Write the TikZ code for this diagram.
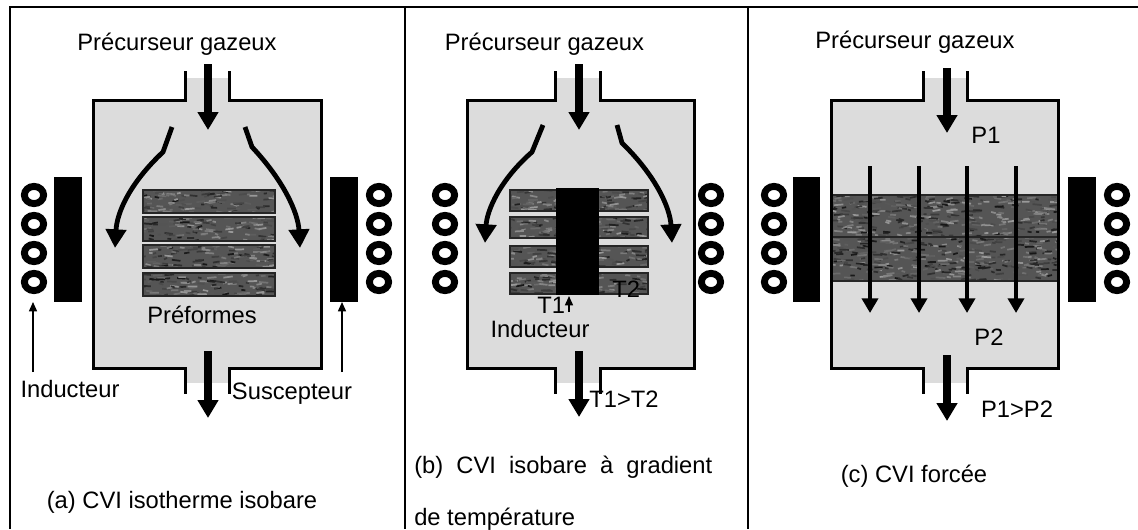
\documentclass[tikz,border=0pt]{standalone}
\usepackage{fontspec}
\setmainfont{Liberation Sans}
\usetikzlibrary{arrows.meta}
\definecolor{chgray}{HTML}{DCDCDC}
\definecolor{pfbase}{HTML}{555555}
\definecolor{pfdark}{HTML}{262626}
\tikzset{
  frameline/.style={line width=1.5pt},
  wall/.style={line width=2.25pt},
  bigarrow/.style={line width=6pt,-{Triangle[width=15pt,length=13.5pt]}},
  flowarrow/.style={line width=3.6pt,-{Triangle[width=15pt,length=14pt]}},
  thinarrow/.style={line width=1.1pt,-{Triangle[width=6pt,length=7pt]}},
  midarrow/.style={line width=3pt,-{Triangle[width=12pt,length=11pt]}},
  coil/.style={line width=5.2pt},
  susc/.style={fill=black},
  pfedge/.style={line width=1.5pt,draw=pfdark},
  lbl/.style={font=\fontsize{17.8}{21}\selectfont,inner sep=0pt},
}
\newcommand\chamberfill[4]{%
  \fill[chgray] (#1,100) rectangle (#2,368);
  \fill[chgray] (#3,78) rectangle (#4,100);
  \fill[chgray] (#3,368) rectangle (#4,383);
}
\newcommand\chamberwall[4]{%
  \draw[wall] (#3,71) -- (#3,100) -- (#1,100) -- (#1,368) -- (#3,368) -- (#3,394);
  \draw[wall] (#4,71) -- (#4,100) -- (#2,100) -- (#2,368) -- (#4,368) -- (#4,394);
}
\newcommand\coilset[1]{%
  \foreach \yy in {195,224,253,282} \draw[coil] (#1,\yy) ellipse[x radius=9.6,y radius=8.6];
}
\newcommand\preform[5]{%
  \begin{scope}
    \clip (#1,#2) rectangle (#3,#4);
    \fill[pfbase] (#1,#2) rectangle (#3,#4);
    \foreach \k in {1,...,#5}{%
      \pgfmathsetmacro\px{#1-4+rnd*(#3-#1+4)}%
      \pgfmathsetmacro\py{#2+rnd*(#4-#2)}%
      \pgfmathsetmacro\dx{3+rnd*7}%
      \pgfmathsetmacro\dy{rand*1.5}%
      \pgfmathtruncatemacro\gl{40+rnd*52}%
      \draw[black!\gl,line width=1.3pt] (\px,\py) -- ++(\dx,\dy);
    }
  \end{scope}
  \draw[pfedge] (#1,#2) rectangle (#3,#4);
}
\begin{document}
\begin{tikzpicture}[x=0.75pt,y=-0.75pt]
\pgfmathsetseed{11}
\useasboundingbox (0,0) rectangle (1138,529);
% frame
\draw[frameline] (1138,7) -- (10,7) -- (10,529);
\draw[frameline] (405,7) -- (405,529);
\draw[frameline] (748,7) -- (748,529);

%%%%%%%% panel (a)
\chamberfill{93}{321}{185}{229}
\preform{143}{190}{275}{213}{110}
\preform{143}{217}{275}{241}{110}
\preform{143}{245}{275}{268}{110}
\preform{143}{273}{275}{296}{110}
\chamberwall{93}{321}{185}{229}
\coordinate (ainA) at (208,64);   \coordinate (ainB) at (208,130);
\coordinate (aoutA) at (208,351); \coordinate (aoutB) at (208,418);
\draw[bigarrow] (ainA) -- (ainB);
\draw[bigarrow] (aoutA) -- (aoutB);
\coordinate (alA) at (172,127); \coordinate (alB) at (163,152); \coordinate (alC) at (115,248);
\coordinate (arA) at (245,127); \coordinate (arB) at (252,147); \coordinate (arC) at (300,248);
\draw[flowarrow] (alA) -- (alB) .. controls (130,183) and (117,212) .. (alC);
\draw[flowarrow] (arA) -- (arB) .. controls (283,180) and (298,212) .. (arC);
\fill[susc] (54,177) rectangle (82,302);
\fill[susc] (330,177) rectangle (358,302);
\coilset{34}
\coilset{379}
\node[lbl,anchor=base] (pga) at (177,50) {Précurseur gazeux};
\node[lbl,anchor=base] (pfa) at (202,323) {Préformes};
\node[lbl,anchor=base] (inda) at (70,397) {Inducteur};
\node[lbl,anchor=base] (susa) at (292,399) {Suscepteur};
\node[lbl,anchor=base] (capa) at (182,508) {(a) CVI isotherme isobare};
\coordinate (indaT) at (33,302); \coordinate (susaT) at (342,302);
\draw[thinarrow] (33,372) -- (indaT);
\draw[thinarrow] (342,372) -- (susaT);

%%%%%%%% panel (b)
\chamberfill{467}{694}{555}{600}
\preform{510}{190}{648}{211}{110}
\preform{510}{217}{648}{238}{110}
\preform{510}{246}{648}{267}{110}
\preform{510}{273}{648}{294}{110}
\fill[black] (556,188) rectangle (599,295);
\chamberwall{467}{694}{555}{600}
\coordinate (binA) at (579,64);   \coordinate (binB) at (579,130);
\coordinate (boutA) at (579,351); \coordinate (boutB) at (579,417);
\draw[bigarrow] (binA) -- (binB);
\draw[bigarrow] (boutA) -- (boutB);
\coordinate (blA) at (543,125); \coordinate (blB) at (532,152); \coordinate (blC) at (485,243);
\coordinate (brA) at (617,125); \coordinate (brB) at (622,143); \coordinate (brC) at (672,243);
\draw[flowarrow] (blA) -- (blB) .. controls (500,180) and (487,210) .. (blC);
\draw[flowarrow] (brA) -- (brB) .. controls (655,175) and (670,207) .. (brC);
\coilset{445}
\coilset{711}
\node[lbl,anchor=base] (pgb) at (544.5,50) {Précurseur gazeux};
\node[lbl,anchor=base west] (t2) at (612,297) {T2};
\node[lbl,anchor=base west] (t1) at (537,313) {T1};
\coordinate (t1T) at (569,296);
\draw[thinarrow] (569,312) -- (t1T);
\node[lbl,anchor=base] (indb) at (540,337) {Inducteur};
\node[lbl,anchor=base] (tt) at (624,407) {T1>T2};
\node[lbl,anchor=base west] (capb1) at (414,473) {\makebox[223.5pt][s]{(b) CVI isobare à gradient}};
\node[lbl,anchor=base west] (capb2) at (414,525) {de température};

%%%%%%%% panel (c)
\chamberfill{831}{1058}{923}{967}
\preform{831}{195}{1058}{237}{330}
\preform{831}{237}{1058}{281}{330}
\coordinate (cinA) at (947,68);   \coordinate (cinB) at (947,133);
\coordinate (coutA) at (947,355); \coordinate (coutB) at (947,421);
\foreach \xx/\nm in {870/c1,919/c2,967/c3,1016/c4}{
  \coordinate (\nm A) at (\xx,166); \coordinate (\nm B) at (\xx,313);
  \draw[midarrow] (\nm A) -- (\nm B);
}
\chamberwall{831}{1058}{923}{967}
\draw[bigarrow] (cinA) -- (cinB);
\draw[bigarrow] (coutA) -- (coutB);
\fill[susc] (793,177) rectangle (820,302);
\fill[susc] (1068,177) rectangle (1096,302);
\coilset{774}
\coilset{1117}
\node[lbl,anchor=base] (pgc) at (915,48) {Précurseur gazeux};
\node[lbl,anchor=base] (p1) at (986,143) {P1};
\node[lbl,anchor=base] (p2) at (989,345) {P2};
\node[lbl,anchor=base] (pp) at (1017,417) {P1>P2};
\node[lbl,anchor=base] (capc) at (914,482) {(c) CVI forcée};
\end{tikzpicture}
\end{document}
